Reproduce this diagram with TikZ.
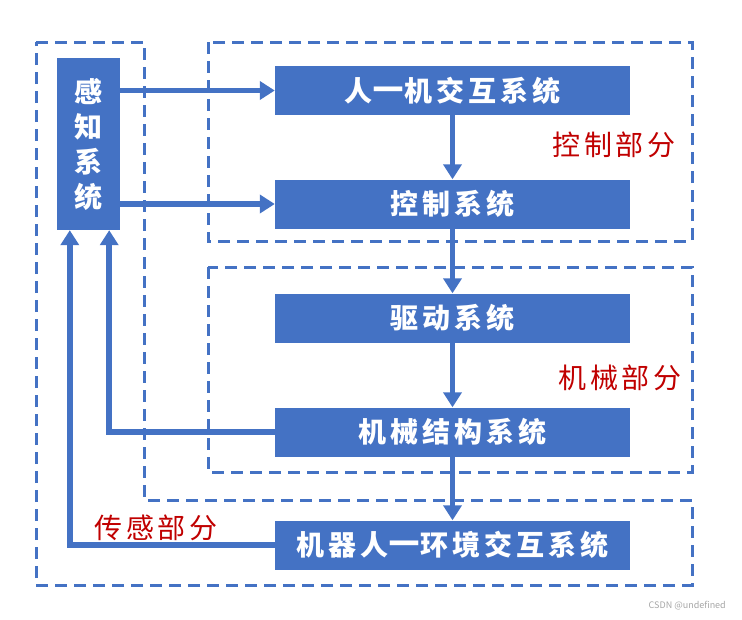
\documentclass[tikz,border=0pt]{standalone}
\usepackage{fontspec}
\setmainfont{Noto Sans CJK SC}
\newfontfamily\boxfont[LetterSpace=14]{Noto Sans CJK SC}
\newfontfamily\redfont[LetterSpace=14]{Noto Sans CJK SC}
\usetikzlibrary{arrows.meta}
\definecolor{bblue}{HTML}{4472C4}
\definecolor{dred}{HTML}{C00000}
\newcommand{\widedash}{\scalebox{1.25}[1.5]{—}}
\tikzset{
  sysbox/.style={fill=bblue, draw=none, minimum width=355pt, minimum height=49pt, inner sep=0pt,
    text=white, font=\boxfont\bfseries\fontsize{28}{30}\selectfont},
  arr/.style={draw=bblue, line width=5.5pt, line join=miter, -{Triangle[length=15pt,width=18pt]}},
  region/.style={draw=bblue, line width=3pt, dash pattern=on 12pt off 7pt},
  partlabel/.style={text=dred, font=\redfont\fontsize{28}{30}\selectfont, inner sep=0pt}
}
\begin{document}
\begin{tikzpicture}[x=1pt,y=1pt]
\useasboundingbox (0,0) rectangle (742,-619);
% dashed regions
\draw[region] (36,-42) -- (144,-42) -- (144,-500) -- (692,-500) -- (692,-585) -- (36,-585) -- cycle;
\draw[region] (208,-42) rectangle (692,-241);
\draw[region] (208,-267) rectangle (692,-472);
% boxes
\node[sysbox] (hm) at (452.5,-90.5) {人\widedash 机交互系统};
\node[sysbox] (ctl) at (452.5,-204) {控制系统};
\node[sysbox] (drv) at (452.5,-318) {驱动系统};
\node[sysbox] (mech) at (452.5,-432) {机械结构系统};
\node[sysbox] (env) at (452.5,-545) {机器人\widedash 环境交互系统};
\node[fill=bblue, minimum width=63pt, minimum height=172pt, inner sep=0pt, text=white,
  font=\boxfont\bfseries\fontsize{28}{35}\selectfont, align=center] (sense) at (88.5,-144) {感\\知\\系\\统};
% arrows
\draw[arr] (sense.east |- hm.west) -- (hm.west);
\draw[arr] (sense.east |- ctl.west) -- (ctl.west);
\draw[arr] (hm.south) -- (ctl.north);
\draw[arr] (ctl.south) -- (drv.north);
\draw[arr] (drv.south) -- (mech.north);
\draw[arr] (mech.south) -- (env.north);
\draw[arr] (mech.west) -| ([xshift=-11pt]sense.south east);
\draw[arr] (env.west) -| ([xshift=13pt]sense.south west);
% labels
\node[partlabel] (lctl) at (614,-145) {控制部分};
\node[partlabel] (lmech) at (620,-378) {机械部分};
\node[partlabel] (lsense) at (156,-528) {传感部分};
\node[text=gray!70, font=\fontsize{9}{10}\selectfont, anchor=east, inner sep=0pt] (wm) at (726,-606) {CSDN @undefined};
\end{tikzpicture}
\end{document}
